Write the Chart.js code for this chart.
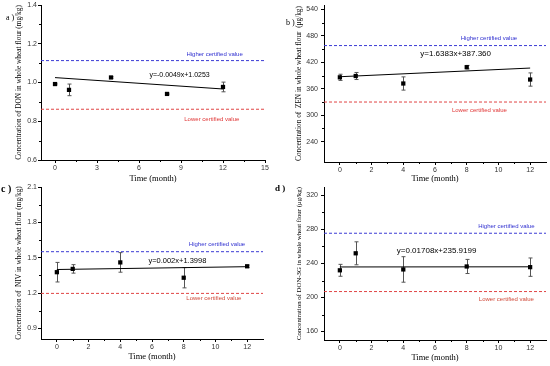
<!DOCTYPE html>
<html>
<head>
<meta charset="utf-8">
<script src="https://cdn.jsdelivr.net/npm/chart.js@4.4.1/dist/chart.umd.min.js"></script>
<style>
  body { margin: 0; background: #fff; }
  #wrap { position: relative; width: 550px; height: 366px; overflow: hidden; background: #fff; }
  canvas { position: absolute; }
  .tag { position: absolute; font-family: "Liberation Serif", serif; color: #000; line-height: 1; white-space: nowrap; }
</style>
</head>
<body>
<div id="wrap">
  <canvas id="chartA" width="275" height="183" style="left:0;top:0"></canvas>
  <canvas id="chartB" width="275" height="183" style="left:275px;top:0"></canvas>
  <canvas id="chartC" width="275" height="183" style="left:0;top:183px"></canvas>
  <canvas id="chartD" width="275" height="183" style="left:275px;top:183px"></canvas>
  <div class="tag" style="left:6px;top:14px;font-size:8px">a )</div>
  <div class="tag" style="left:286px;top:19px;font-size:8px">b )</div>
  <div class="tag" style="left:1px;top:184px;font-size:10px;font-weight:bold">c )</div>
  <div class="tag" style="left:275px;top:184px;font-size:9px;font-weight:bold">d )</div>
</div>
<script>
// storage time (months)
const months = [0, 1, 4, 8, 12];
const fitX = [0, 12];

// a) DON (mg/kg)
const donValues = [0.992, 0.962, 1.026, 0.941, 0.977];
const donErrors = [0.004, 0.03, 0.004, 0.004, 0.025];
const donFit = [1.0253, 0.9665];
const donLimits = [1.113, 0.862];
const donTicksX = [0, 3, 6, 9, 12, 15];
const donTicksY = [0.6, 0.8, 1.0, 1.2, 1.4];

// b) ZEN (ug/kg)
const zenValues = [386, 389, 372, 409, 381];
const zenErrors = [7, 8, 15, 4, 15];
const zenFit = [387.36, 407.02];
const zenLimits = [458, 330];
const zenTicksY = [240, 300, 360, 420, 480, 540];

// c) NIV (mg/kg)
const nivValues = [1.377, 1.405, 1.46, 1.33, 1.427];
const nivErrors = [0.083, 0.036, 0.083, 0.086, 0.01];
const nivFit = [1.3998, 1.4238];
const nivLimits = [1.551, 1.197];
const nivTicksY = [0.9, 1.2, 1.5, 1.8, 2.1];

// d) DON-3G (ug/kg)
const don3gValues = [232, 252, 233, 236.5, 235.7];
const don3gErrors = [7, 13.5, 15, 8.3, 10.8];
const don3gFit = [235.92, 236.12];
const don3gLimits = [275.6, 207];
const don3gTicksY = [160, 200, 240, 280, 320];

const ticksX = [0, 2, 4, 6, 8, 10, 12];

const errorBarPlugin = {
  id: 'errorBars',
  beforeDatasetsDraw(chart, args, opts) {
    const { ctx, scales: { x, y } } = chart;
    ctx.save();
    ctx.strokeStyle = '#555';
    ctx.lineWidth = 1;
    opts.values.forEach((v, i) => {
      const px = Math.round(x.getPixelForValue(months[i])) + 0.5;
      const top = y.getPixelForValue(v + opts.errors[i]);
      const bot = y.getPixelForValue(v - opts.errors[i]);
      ctx.beginPath();
      ctx.moveTo(px, top); ctx.lineTo(px, bot);
      ctx.moveTo(px - 2, top); ctx.lineTo(px + 2, top);
      ctx.moveTo(px - 2, bot); ctx.lineTo(px + 2, bot);
      ctx.stroke();
    });
    ctx.restore();
  }
};

const notePlugin = {
  id: 'notes',
  afterDatasetsDraw(chart, args, opts) {
    const { ctx, scales: { x, y } } = chart;
    ctx.save();
    ctx.textAlign = 'center';
    ctx.textBaseline = 'middle';
    opts.items.forEach(n => {
      ctx.font = n.size + 'px "Liberation Sans", Arial, sans-serif';
      ctx.fillStyle = n.color;
      ctx.fillText(n.text, x.getPixelForValue(n.x), y.getPixelForValue(n.y));
    });
    ctx.restore();
  }
};

// small minor ticks halfway between the major ones
const minorTickPlugin = {
  id: 'minorTicks',
  afterDraw(chart) {
    const { ctx, scales: { x, y } } = chart;
    ctx.save();
    ctx.strokeStyle = '#000';
    ctx.lineWidth = 1;
    ctx.beginPath();
    for (let i = 0; i < x.ticks.length - 1; i++) {
      const px = Math.round(x.getPixelForValue((x.ticks[i].value + x.ticks[i + 1].value) / 2)) + 0.5;
      ctx.moveTo(px, x.top); ctx.lineTo(px, x.top + 2);
    }
    for (let i = 0; i < y.ticks.length - 1; i++) {
      const py = Math.round(y.getPixelForValue((y.ticks[i].value + y.ticks[i + 1].value) / 2)) + 0.5;
      ctx.moveTo(y.right, py); ctx.lineTo(y.right - 2, py);
    }
    ctx.stroke();
    ctx.restore();
  }
};

function makePanel(id, p) {
  const tickFont = { family: 'Liberation Sans', size: 7 };
  new Chart(document.getElementById(id), {
    type: 'scatter',
    data: {
      datasets: [
        {
          data: months.map((m, i) => ({ x: m, y: p.values[i] })),
          pointStyle: 'rect', pointRadius: 3, backgroundColor: '#000', borderColor: '#000', borderWidth: 0
        },
        {
          data: fitX.map((v, i) => ({ x: v, y: p.fit[i] })),
          showLine: true, borderColor: '#000', borderWidth: 1, pointRadius: 0
        },
        {
          data: [{ x: p.xMin, y: p.limits[0] }, { x: p.xMax, y: p.limits[0] }],
          showLine: true, borderColor: '#3b3bd4', borderWidth: 1, borderDash: [3, 2], pointRadius: 0
        },
        {
          data: [{ x: p.xMin, y: p.limits[1] }, { x: p.xMax, y: p.limits[1] }],
          showLine: true, borderColor: '#e04545', borderWidth: 1, borderDash: [3, 2], pointRadius: 0
        }
      ]
    },
    options: {
      responsive: false,
      animation: false,
      layout: { padding: { top: p.padTop, right: p.padRight, left: 0, bottom: 0 } },
      plugins: {
        legend: { display: false },
        tooltip: { enabled: false },
        errorBars: { values: p.values, errors: p.errors },
        notes: { items: p.notes }
      },
      scales: {
        x: {
          type: 'linear', min: p.xMin, max: p.xMax,
          afterBuildTicks: s => { s.ticks = p.xTicks.map(v => ({ value: v })); },
          afterFit: s => { s.height = p.xHeight; s.paddingLeft = 0; s.paddingRight = 0; },
          grid: { drawOnChartArea: false, color: '#000', tickLength: 3 },
          border: { color: '#000' },
          ticks: { font: tickFont, color: '#333', padding: 1, maxRotation: 0, autoSkip: false },
          title: {
            display: true, text: 'Time (month)', color: '#000',
            font: { family: 'Liberation Serif', size: 8.5, lineHeight: 1 },
            padding: { top: 0, bottom: p.xTitlePad }
          }
        },
        y: {
          min: p.yMin, max: p.yMax,
          afterBuildTicks: s => { s.ticks = p.yTicks.map(v => ({ value: v })); },
          afterFit: s => { s.width = p.yWidth; s.paddingTop = 0; s.paddingBottom = 0; },
          grid: { drawOnChartArea: false, color: '#000', tickLength: 3 },
          border: { color: '#000' },
          ticks: { font: tickFont, color: '#333', padding: p.yTickPad, callback: v => p.yFormat(v) },
          title: {
            display: true, text: p.yTitle, color: '#000',
            font: { family: 'Liberation Serif', size: p.yTitleSize, lineHeight: 1.2 },
            padding: { top: p.yTitlePad, bottom: 0 }
          }
        }
      }
    },
    plugins: [errorBarPlugin, notePlugin, minorTickPlugin]
  });
}

makePanel('chartA', {
  values: donValues, errors: donErrors, fit: donFit, limits: donLimits,
  xMin: -1, xMax: 15, xTicks: donTicksX, yMin: 0.6, yMax: 1.4, yTicks: donTicksY,
  yFormat: v => v.toFixed(1),
  yTitle: 'Concentration of DON in whole wheat flour (mg/kg)', yTitleSize: 7.3,
  padTop: 5, padRight: 10, xHeight: 23, yWidth: 41, yTickPad: 1, yTitlePad: 15, xTitlePad: 0,
  notes: [
    { text: 'Higher certified value', x: 11.4, y: 1.145, color: '#3030d0', size: 6 },
    { text: 'Lower certified value', x: 11.2, y: 0.811, color: '#e03535', size: 6 },
    { text: 'y=-0.0049x+1.0253', x: 8.9, y: 1.04, color: '#000', size: 7 }
  ]
});

makePanel('chartB', {
  values: zenValues, errors: zenErrors, fit: zenFit, limits: zenLimits,
  xMin: -1, xMax: 13, xTicks: ticksX, yMin: 194, yMax: 550, yTicks: zenTicksY,
  yFormat: v => String(v),
  yTitle: 'Concentration of  ZEN in whole wheat flour  (\u03bcg/kg)', yTitleSize: 7.3,
  padTop: 5, padRight: 4, xHeight: 21, yWidth: 49, yTickPad: 3, yTitlePad: 20, xTitlePad: 0,
  notes: [
    { text: 'Higher certified value', x: 9.4, y: 475, color: '#3030d0', size: 6 },
    { text: 'Lower certified value', x: 8.8, y: 312, color: '#e03535', size: 6 },
    { text: 'y=1.6383x+387.360', x: 7.3, y: 440, color: '#000', size: 8 }
  ]
});

makePanel('chartC', {
  values: nivValues, errors: nivErrors, fit: nivFit, limits: nivLimits,
  xMin: -1, xMax: 13, xTicks: ticksX, yMin: 0.81, yMax: 2.1, yTicks: nivTicksY,
  yFormat: v => v.toFixed(1),
  yTitle: 'Concentration of  NIV in whole wheat flour (mg/kg)', yTitleSize: 7.3,
  padTop: 1, padRight: 12, xHeight: 27, yWidth: 41, yTickPad: 1, yTitlePad: 15, xTitlePad: 4.5,
  notes: [
    { text: 'Higher certified value', x: 10.1, y: 1.615, color: '#3030d0', size: 6 },
    { text: 'Lower certified value', x: 9.9, y: 1.152, color: '#d04a3a', size: 6 },
    { text: 'y=0.002x+1.3998', x: 7.6, y: 1.474, color: '#000', size: 7.5 }
  ]
});

makePanel('chartD', {
  values: don3gValues, errors: don3gErrors, fit: don3gFit, limits: don3gLimits,
  xMin: -1, xMax: 13, xTicks: ticksX, yMin: 150, yMax: 330, yTicks: don3gTicksY,
  yFormat: v => String(v),
  yTitle: 'Concentration of DON-3G in whole wheat flour (\u03bcg/kg)', yTitleSize: 6.8,
  padTop: 2, padRight: 4, xHeight: 26, yWidth: 49, yTickPad: 3, yTitlePad: 20.5, xTitlePad: 4,
  notes: [
    { text: 'Higher certified value', x: 10.5, y: 283.7, color: '#3030d0', size: 6 },
    { text: 'Lower certified value', x: 10.5, y: 198, color: '#d04a3a', size: 6 },
    { text: 'y=0.01708x+235.9199', x: 6.1, y: 255.4, color: '#000', size: 8 }
  ]
});
</script>
</body>
</html>
